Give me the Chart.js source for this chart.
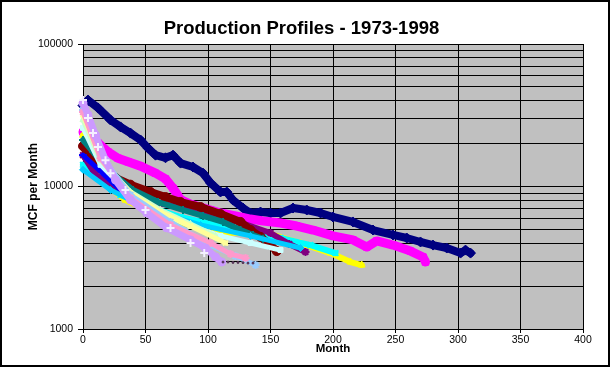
<!DOCTYPE html>
<html><head><meta charset="utf-8">
<script src="https://cdn.jsdelivr.net/npm/chart.js@4.4.0/dist/chart.umd.min.js"></script>
<style>html,body{margin:0;padding:0;background:#fff;}canvas{display:block;}</style>
</head><body>
<canvas id="c" width="611" height="368"></canvas>
<script>
const chartTitle = 'Production Profiles - 1973-1998';
const xAxisTitle = 'Month';
const yAxisTitle = 'MCF per Month';
const xTickValues = [0, 50, 100, 150, 200, 250, 300, 350, 400];
const yTickValues = [1000,2000,3000,4000,5000,6000,7000,8000,9000,10000,20000,30000,40000,50000,60000,70000,80000,90000,100000];
const yLabelValues = [1000, 10000, 100000];

const navyMonths = [0,4,12,22,30,38,46,52,58,66,72,78,88,96,102,110,115,120,128,134,142,150,158,168,179,190,200,216,232,248,259,270,280,291,302,306,310];
const navyValues = [37000,40400,35600,29300,26200,23700,21200,18600,16600,15900,16600,14600,13700,12400,10600,9150,9150,8030,7060,6520,6620,6520,6520,7060,6840,6520,6110,5640,4950,4570,4350,4080,3880,3700,3410,3580,3410];
const magentaMonths = [0,6,12,20,28,36,46,58,66,72,78,86,94,102,110,118,126,134,144,158,171,184,200,216,227,235,248,262,272,274];
const magentaValues = [24100,22200,20200,17500,15800,14900,13900,12400,11300,9750,8100,7530,7180,6840,6520,6310,6110,5910,5730,5540,5280,4950,4500,4220,3760,4150,3880,3520,3200,2950];
const yellowMonths = [0,10,22,34,54,78,104,130,152,174,198,214,223];
const yellowValues = [22900,13100,9750,8030,6620,5640,4700,4750,4570,4010,3410,2950,2810];
const cyanMonths = [0,14,30,54,78,102,126,158,182,202];
const cyanValues = [14200,11100,8710,7180,6110,5460,4950,4350,3880,3410];
const purpleMonths = [0,10,30,60,90,120,150,165,178];
const purpleValues = [16600,12100,9450,7650,6840,5820,4720,3950,3470];
const maroonMonths = [0,6,14,26,38,54,66,78,94,110,126,134,142,150,155];
const maroonValues = [19200,15800,13500,11500,10300,9150,8430,7780,7180,6410,5640,4950,4430,3880,3520];
const tealMonths = [0,8,20,40,60,80,96,112,126,136,144];
const tealValues = [21200,17500,13100,9450,7780,6840,6210,5640,4950,4570,4290];
const blueMonths = [0,30,62,86,102,108];
const blueValues = [16600,9450,6620,5370,4720,4500];
const skyMonths = [0,22,54,94,134,174];
const skyValues = [13100,9450,6840,5370,4500,3700];
const turquoiseMonths = [0,14,38,62,86,110,134,158];
const turquoiseValues = [25800,14200,8710,6520,5280,4500,4010,3580];
const greenMonths = [0,14,38,62,86,106];
const greenValues = [29300,15300,9150,6840,5460,4500];
const lightYellowMonths = [0,14,38,62,86,114];
const lightYellowValues = [31800,15800,9000,6620,5280,4010];
const paleBlueMonths = [0,14,38,70,102,122,138];
const paleBlueValues = [34400,16600,8710,5640,3880,3250,2810];
const roseMonths = [0,14,38,70,102,118,130];
const roseValues = [33300,15800,8300,5370,4010,3360,3150];
const lavenderMonths = [0,4,10,18,26,38,51,67,86,98,106,111];
const lavenderValues = [38600,31800,22900,15300,11100,8030,6520,5120,4220,3700,3200,2950];
const dotMonths = [112,116,120,124,128,132,136];
const dotValues = [2950,2950,2930,2930,2920,2900,2900];
const whiteMonths = [0,4,8,12,18,22,34,50,70,86,97];
const whiteValues = [40400,30300,23700,18900,15300,12400,9450,6840,5120,4010,3410];

// series: [months, values, color, marker, radius, line width]
const series = [
  [navyMonths, navyValues, '#000080', 'rectRot', 5, 8],
  [magentaMonths, magentaValues, '#FF00FF', 'rect', 4.5, 9],
  [yellowMonths, yellowValues, '#FFFF00', 'triangle', 4, 6],
  [cyanMonths, cyanValues, '#00FFFF', 'crossRot', 4, 6],
  [purpleMonths, purpleValues, '#800080', 'star', 4, 6],
  [maroonMonths, maroonValues, '#800000', 'circle', 4.5, 8],
  [tealMonths, tealValues, '#008080', 'cross', 4, 6],
  [blueMonths, blueValues, '#0000FF', 'line', 4, 5],
  [skyMonths, skyValues, '#00CCFF', 'rectRot', 3.5, 5],
  [turquoiseMonths, turquoiseValues, '#CCFFFF', 'rect', 3.5, 5],
  [greenMonths, greenValues, '#CCFFCC', 'triangle', 3.5, 5],
  [lightYellowMonths, lightYellowValues, '#FFFF99', 'crossRot', 3.5, 5],
  [paleBlueMonths, paleBlueValues, '#99CCFF', 'star', 4, 5],
  [roseMonths, roseValues, '#FF99CC', 'star', 4, 5],
  [lavenderMonths, lavenderValues, '#CC99FF', 'circle', 4, 7],
  [dotMonths, dotValues, '#553355', 'circle', 1, 0],
  [whiteMonths, whiteValues, '#F4F0FF', 'cross', 4, 0]
];

const N = series.length;
const datasets = series.map((s, i) => ({
  data: s[0].map((m, k) => ({x: m, y: s[1][k]})),
  showLine: s[5] > 0,
  borderColor: s[2],
  backgroundColor: s[2],
  borderWidth: s[5],
  borderJoinStyle: 'round',
  borderCapStyle: 'round',
  tension: 0,
  pointStyle: s[3],
  pointRadius: s[4],
  pointBackgroundColor: s[2],
  pointBorderColor: s[2],
  pointBorderWidth: (s[3] === 'cross' || s[3] === 'crossRot' || s[3] === 'star' || s[3] === 'line') ? 2 : 1,
  clip: 8,
  order: N - i
}));

const FONT = 'Arial, "Liberation Sans", sans-serif';
Chart.defaults.font.family = FONT;
Chart.defaults.color = '#000';

const framePlugin = {
  id: 'frame',
  beforeDraw(chart) {
    const {ctx, chartArea: a} = chart;
    ctx.save();
    ctx.fillStyle = '#fff';
    ctx.fillRect(0, 0, chart.width, chart.height);
    ctx.fillStyle = '#C0C0C0';
    ctx.fillRect(a.left, a.top, a.right - a.left, a.bottom - a.top);
    ctx.restore();
  },
  afterDraw(chart) {
    const ctx = chart.ctx;
    ctx.save();
    ctx.strokeStyle = '#000';
    ctx.lineWidth = 2;
    ctx.strokeRect(1, 1, 608, 365);
    ctx.restore();
  }
};

new Chart(document.getElementById('c'), {
  type: 'scatter',
  data: {datasets},
  options: {
    responsive: false,
    animation: false,
    events: [],
    layout: {padding: {left: 20, right: 28, top: 0, bottom: 8}},
    plugins: {
      legend: {display: false},
      tooltip: {enabled: false},
      title: {
        display: true, text: chartTitle, color: '#000',
        font: {family: FONT, size: 18.5, weight: 'bold', lineHeight: 1.2},
        padding: {top: 18, bottom: 3.8}
      }
    },
    scales: {
      x: {
        type: 'linear', min: 0, max: 400,
        afterBuildTicks: s => { s.ticks = xTickValues.map(v => ({value: v})); },
        afterFit: s => { s.height = 31; },
        ticks: {autoSkip: false, maxRotation: 0, padding: 1, font: {size: 10.5}, color: '#000'},
        grid: {color: '#000', lineWidth: 1, tickLength: 4, tickColor: '#000'},
        border: {color: '#000', width: 1},
        title: {display: true, text: xAxisTitle, color: '#000', font: {size: 11.5, weight: 'bold', lineHeight: 1.2}, padding: {top: 0, bottom: 4}}
      },
      y: {
        type: 'logarithmic', min: 1000, max: 100000,
        afterBuildTicks: s => { s.ticks = yTickValues.map(v => ({value: v})); },
        afterFit: s => { s.width = 63; },
        ticks: {
          autoSkip: false, padding: 5, font: {size: 10.5}, color: '#000',
          callback: v => yLabelValues.includes(v) ? String(v) : ''
        },
        grid: {
          color: '#000', lineWidth: 1, tickLength: 5,
          tickColor: ctx => (ctx.tick && yLabelValues.includes(ctx.tick.value)) ? '#000' : 'rgba(0,0,0,0)'
        },
        border: {color: '#000', width: 1},
        title: {display: true, text: yAxisTitle, color: '#000', font: {size: 12, weight: 'bold', lineHeight: 1.2}, padding: {top: 6, bottom: 0}}
      }
    }
  },
  plugins: [framePlugin]
});
</script>
</body></html>
